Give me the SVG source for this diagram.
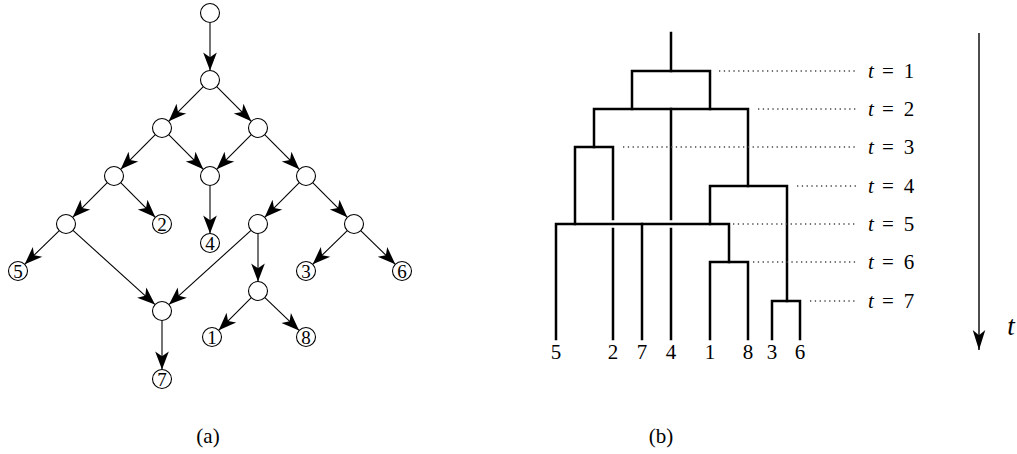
<svg xmlns="http://www.w3.org/2000/svg" width="1017" height="454" viewBox="0 0 1017 454">
<style>
.node circle{fill:#fff;stroke:#000;stroke-width:1.1}
.node text{font-family:"Liberation Serif",serif;font-size:19px;text-anchor:middle}
.edge{stroke:#000;stroke-width:1.1;fill:none;marker-end:url(#stealth)}
.tree{stroke:#000;stroke-width:2.5;fill:none;stroke-linejoin:miter;stroke-linecap:square}
.dot{stroke:#444;stroke-width:1.3;stroke-dasharray:1.3 3.5;fill:none}
.lbl{font-family:"Liberation Serif",serif;font-size:21px;text-anchor:middle}
.it{font-style:italic}
</style>
<defs>
<marker id="stealth" markerUnits="userSpaceOnUse" markerWidth="20" markerHeight="16" viewBox="-18 -7 19 14" refX="0" refY="0" orient="auto">
<path d="M0,0 L-17,-6.5 L-12.5,0 L-17,6.5 Z" fill="#000"/>
</marker>
<marker id="bigarrow" markerUnits="userSpaceOnUse" markerWidth="22" markerHeight="16" viewBox="-20 -7 21 14" refX="0" refY="0" orient="auto">
<path d="M0,0 L-19,-6 L-14,0 L-19,6 Z" fill="#000"/>
</marker>
</defs>
<rect width="1017" height="454" fill="#fff"/>

<g id="connectors">
<line class="edge" x1="210" y1="22.5" x2="210" y2="70.5"/>
<line class="edge" x1="203.3" y1="86.7" x2="168.7" y2="121.3"/>
<line class="edge" x1="216.7" y1="86.7" x2="251.3" y2="121.3"/>
<line class="edge" x1="155.3" y1="134.7" x2="120.7" y2="169.3"/>
<line class="edge" x1="168.7" y1="134.7" x2="203.3" y2="169.3"/>
<line class="edge" x1="251.3" y1="134.7" x2="216.7" y2="169.3"/>
<line class="edge" x1="264.7" y1="134.7" x2="299.3" y2="169.3"/>
<line class="edge" x1="107.3" y1="182.7" x2="72.7" y2="217.3"/>
<line class="edge" x1="120.7" y1="182.7" x2="155.3" y2="217.3"/>
<line class="edge" x1="210" y1="185.5" x2="210" y2="233.5"/>
<line class="edge" x1="299.3" y1="182.7" x2="264.7" y2="217.3"/>
<line class="edge" x1="312.7" y1="182.7" x2="347.3" y2="217.3"/>
<line class="edge" x1="59.3" y1="230.7" x2="24.7" y2="264.3"/>
<line class="edge" x1="73" y1="230.4" x2="155" y2="304.6"/>
<line class="edge" x1="251" y1="230.4" x2="169" y2="304.6"/>
<line class="edge" x1="258" y1="233.5" x2="258" y2="281.5"/>
<line class="edge" x1="347.3" y1="230.7" x2="312.7" y2="264.3"/>
<line class="edge" x1="360.7" y1="230.7" x2="395.3" y2="264.3"/>
<line class="edge" x1="251.3" y1="297.7" x2="218.7" y2="330.3"/>
<line class="edge" x1="264.9" y1="297.6" x2="299.1" y2="330.4"/>
<line class="edge" x1="162" y1="320.5" x2="162" y2="369.5"/>
</g>

<g id="n_root" class="node"><circle cx="210" cy="13" r="9.5"/></g>
<g id="n1" class="node"><circle cx="210" cy="80" r="9.5"/></g>
<g id="nA" class="node"><circle cx="162" cy="128" r="9.5"/></g>
<g id="nB" class="node"><circle cx="258" cy="128" r="9.5"/></g>
<g id="nC" class="node"><circle cx="114" cy="176" r="9.5"/></g>
<g id="nD" class="node"><circle cx="210" cy="176" r="9.5"/></g>
<g id="nE" class="node"><circle cx="306" cy="176" r="9.5"/></g>
<g id="nF" class="node"><circle cx="66" cy="224" r="9.5"/></g>
<g id="nG" class="node"><circle cx="258" cy="224" r="9.5"/></g>
<g id="nH" class="node"><circle cx="354" cy="224" r="9.5"/></g>
<g id="nM" class="node"><circle cx="162" cy="311" r="9.5"/></g>
<g id="nK" class="node"><circle cx="258" cy="291" r="9.5"/></g>
<g id="leaf2" class="node"><circle cx="162" cy="224" r="9.5"/><text x="162" y="230.5">2</text></g>
<g id="leaf4" class="node"><circle cx="210" cy="243" r="9.5"/><text x="210" y="249.5">4</text></g>
<g id="leaf5" class="node"><circle cx="18" cy="271" r="9.5"/><text x="18" y="277.5">5</text></g>
<g id="leaf3" class="node"><circle cx="306" cy="271" r="9.5"/><text x="306" y="277.5">3</text></g>
<g id="leaf6" class="node"><circle cx="402" cy="271" r="9.5"/><text x="402" y="277.5">6</text></g>
<g id="leaf1" class="node"><circle cx="212" cy="337" r="9.5"/><text x="212" y="343.5">1</text></g>
<g id="leaf8" class="node"><circle cx="306" cy="337" r="9.5"/><text x="306" y="343.5">8</text></g>
<g id="leaf7" class="node"><circle cx="162" cy="379" r="9.5"/><text x="162" y="385.5">7</text></g>

<text class="lbl" x="208" y="443">(a)</text>

<g id="tree">
<path class="tree" d="M671,33 V71"/>
<path class="tree" d="M632,109 V71 H710 V109"/>
<path class="tree" d="M594,147 V109 H748 V186"/>
<path class="tree" d="M671,109 V219 M671,229 V339"/>
<path class="tree" d="M575,224 V147 H613 V219 M613,229 V339"/>
<path class="tree" d="M710,224 V186 H787 V301"/>
<path class="tree" d="M556,339 V224 H729 V262"/>
<path class="tree" d="M642,224 V339"/>
<path class="tree" d="M710,339 V262 H748 V339"/>
<path class="tree" d="M772,339 V301 H800 V339"/>
</g>
<g id="dots">
<line class="dot" x1="719" y1="71" x2="857" y2="71"/>
<line class="dot" x1="758" y1="109" x2="857" y2="109"/>
<line class="dot" x1="623" y1="147" x2="857" y2="147"/>
<line class="dot" x1="797" y1="186" x2="857" y2="186"/>
<line class="dot" x1="733" y1="224" x2="857" y2="224"/>
<line class="dot" x1="753" y1="262" x2="857" y2="262"/>
<line class="dot" x1="810" y1="301" x2="857" y2="301"/>
</g>
<g id="tlabels" class="lbl">
<text x="871" y="78"><tspan class="it">t</tspan></text><text x="888" y="78">=</text><text x="909" y="78">1</text>
<text x="871" y="116"><tspan class="it">t</tspan></text><text x="888" y="116">=</text><text x="909" y="116">2</text>
<text x="871" y="154"><tspan class="it">t</tspan></text><text x="888" y="154">=</text><text x="909" y="154">3</text>
<text x="871" y="193"><tspan class="it">t</tspan></text><text x="888" y="193">=</text><text x="909" y="193">4</text>
<text x="871" y="231"><tspan class="it">t</tspan></text><text x="888" y="231">=</text><text x="909" y="231">5</text>
<text x="871" y="269"><tspan class="it">t</tspan></text><text x="888" y="269">=</text><text x="909" y="269">6</text>
<text x="871" y="308"><tspan class="it">t</tspan></text><text x="888" y="308">=</text><text x="909" y="308">7</text>
</g>
<g id="leaflabels" class="lbl">
<text x="556" y="359">5</text>
<text x="613" y="359">2</text>
<text x="642" y="359">7</text>
<text x="671" y="359">4</text>
<text x="710" y="359">1</text>
<text x="748" y="359">8</text>
<text x="772" y="359">3</text>
<text x="800" y="359">6</text>
</g>
<g id="timeaxis">
<line x1="979" y1="33" x2="979" y2="350" stroke="#000" stroke-width="1.4" marker-end="url(#bigarrow)"/>
<text class="lbl it" x="1011" y="335" style="font-size:27px">t</text>
</g>
<text class="lbl" x="661" y="443">(b)</text>
</svg>
